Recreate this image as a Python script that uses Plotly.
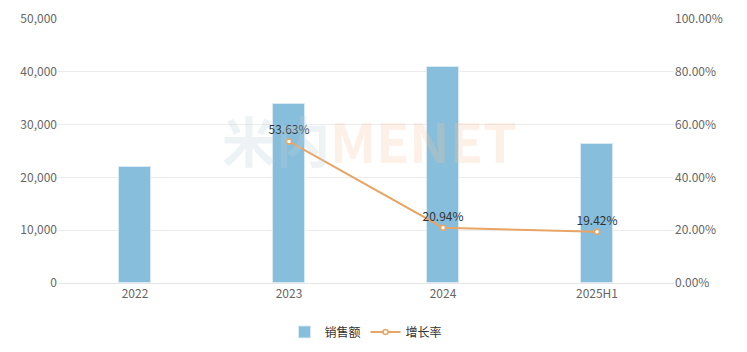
import plotly.graph_objects as go

categories = ["2022", "2023", "2024", "2025H1"]
sales = [22050, 33870, 40960, 26300]
growth_cats = ["2023", "2024", "2025H1"]
growth = [0.5363, 0.2094, 0.1942]

FONT = "Microsoft YaHei, Noto Sans CJK SC, sans-serif"

fig = go.Figure()
fig.add_trace(go.Bar(
    x=categories, y=sales, name="销售额",
    marker=dict(color="#86bedb", line=dict(color="rgba(220,235,245,0.9)", width=1)),
    width=0.21, yaxis="y",
))
fig.add_trace(go.Scatter(
    x=growth_cats, y=growth, name="增长率", yaxis="y2",
    mode="lines+markers+text",
    line=dict(color="#e8a566", width=2),
    marker=dict(size=5, color="#ffffff", line=dict(color="#e8a566", width=1.5)),
    texttemplate="%{y:.2%}", textposition="top center",
    textfont=dict(size=12, color="#333333", family=FONT),
))

fig.add_annotation(
    x=0.506, y=0.545, xref="paper", yref="paper", showarrow=False,
    text='<b><span style="color:rgba(190,210,220,0.28)">米内</span>'
         '<span style="color:rgba(248,195,160,0.25)">MENET</span></b>',
    font=dict(size=54, family=FONT),
)

fig.update_layout(
    width=747, height=352,
    margin=dict(l=58, r=73, t=19, b=69, autoexpand=False),
    paper_bgcolor="white", plot_bgcolor="white",
    font=dict(family=FONT, size=12, color="#666666"),
    showlegend=True,
    legend=dict(orientation="h", x=0.5, xanchor="center",
                yref="container", y=0.057, yanchor="middle",
                font=dict(size=12, color="#333333"), itemwidth=30),
    xaxis=dict(type="category", categoryorder="array", categoryarray=categories,
               showgrid=False, showline=True, linecolor="#e6e6e6", ticks="",
               tickfont=dict(size=12, color="#666666")),
    yaxis=dict(range=[0, 50000], dtick=10000, tickformat=",", showgrid=True,
               gridcolor="#ececec", zeroline=False, showline=False, ticks="",
               tickfont=dict(size=12, color="#666666")),
    yaxis2=dict(range=[0, 1], dtick=0.2, tickformat=".2%", overlaying="y", side="right",
                showgrid=False, zeroline=False, showline=False, ticks="",
                tickfont=dict(size=12, color="#666666")),
    bargap=0,
)

fig.write_html("out.html")
